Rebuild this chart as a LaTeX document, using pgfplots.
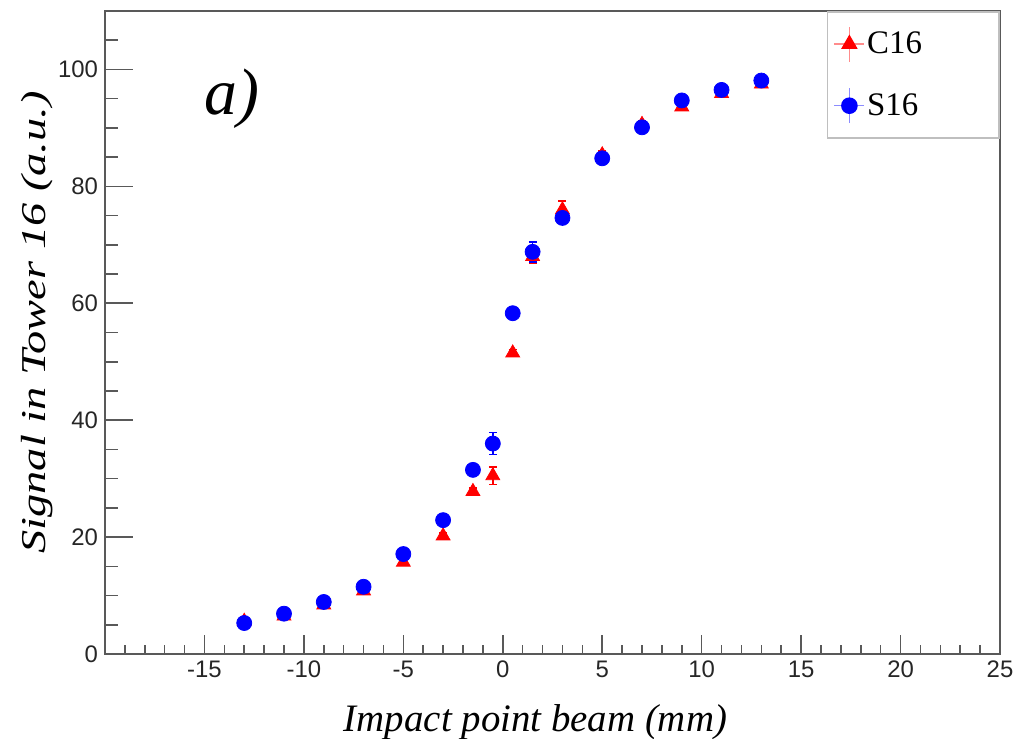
\documentclass[border=0pt]{standalone}
\usepackage{fontspec}
\setmainfont{Liberation Serif}
\newfontfamily\sansf{Liberation Sans}
\usepackage{graphicx}
\usepackage{pgfplots}
\pgfplotsset{compat=1.18}
\usepackage{pgfplotstable}

\pgfplotstableread{
x y ey
-13 5.6 0.4
-11 6.5 0.4
-9 8.4 0.4
-7 10.8 0.5
-5 15.7 0.5
-3 20.2 0.5
-1.5 27.8 0.6
-0.5 30.5 1.5
0.5 51.5 0.6
1.5 68.0 1.2
3 76.0 1.5
5 85.4 0.6
7 90.6 0.6
9 93.6 0.6
11 95.9 0.6
13 97.5 0.6
}\Ctable

\pgfplotstableread{
x y ey
-13 5.3 0.4
-11 6.9 0.4
-9 8.9 0.4
-7 11.5 0.5
-5 17.1 0.5
-3 22.9 0.5
-1.5 31.5 0.6
-0.5 36.0 1.9
0.5 58.3 0.6
1.5 68.8 1.7
3 74.6 0.8
5 84.8 0.6
7 90.1 0.6
9 94.7 0.6
11 96.5 0.6
13 98.1 0.6
}\Stable

\begin{document}
\begin{tikzpicture}
\pgfplotsset{
  tickaxis/.style={
    scale only axis, height=321.5bp,
    xmin=0, xmax=1, ymin=0, ymax=110,
    xtick=\empty, yticklabels={},
    ymajorgrids, major grid style={draw=black!65, line width=0.8bp},
    axis line style={draw=none}, ytick style={draw=none},
  }
}
% long y ticks drawn as grid lines of narrow axes
\begin{axis}[tickaxis, width=14bp, ytick={20,40,60,80,100}]
\end{axis}
\begin{axis}[tickaxis, width=6.5bp, ytick={5,10,15,25,30,35,45,50,55,65,70,75,85,90,95,105}]
\end{axis}
\begin{axis}[
  scale only axis,
  width=447.5bp, height=321.5bp,
  xmin=-20, xmax=25, ymin=0, ymax=110,
  tick pos=left,
  tick align=inside,
  tick style={draw=black!65, line width=0.8bp},
  axis line style={draw=black!65, line width=0.8bp},
  xtick={-20,-15,...,25},
  xticklabels={,-15,-10,-5,0,5,10,15,20,25},
  ytick={0,20,...,100},
  yticklabels={0,20,40,60,80,100},
  ytick style={draw=none},
  minor xtick={-19,...,24},
  major tick length=9.5bp, minor tick length=4.5bp,
  ticklabel style={font=\sansf\fontsize{12}{14}\selectfont, text=black!85},
  xlabel={\itshape Impact point beam (mm)},
  xlabel style={font=\fontsize{19.5}{22}\selectfont, at={(axis description cs:0.481,-0.1198)}, anchor=base},
  ylabel={\scalebox{1.33}[1]{\itshape Signal in Tower 16 (a.u.)}},
  ylabel style={font=\fontsize{17.5}{20}\selectfont, at={(axis description cs:-0.067,0.5155)}, anchor=base},
  legend cell align=left,
  legend style={at={(rel axis cs:1,1)}, anchor=north east, draw=black!25, line width=0.8bp, fill=white,
    font=\fontsize{16.5}{18}\selectfont, inner xsep=3bp, inner ysep=7bp, row sep=12.5bp,
    nodes={inner sep=1bp}},
]
\addplot[only marks, color=red, mark=triangle*, mark size=4bp, mark options={fill=red, draw=red},
  legend image code/.code={
    \draw[red!45, line width=0.8bp] (0bp,0bp) -- (15bp,0bp);
    \draw[red!45, line width=0.8bp] (7.5bp,-8.75bp) -- (7.5bp,8.75bp);
    \draw[red, fill=red, mark=triangle*, mark size=4bp] plot coordinates {(7.5bp,0bp)};
  },
  error bars/.cd, y dir=both, y explicit,
  error bar style={red, line width=0.8bp},
  error mark options={rotate=90, mark size=2bp, red, line width=0.8bp}]
  table[x=x, y=y, y error=ey]{\Ctable};
\addlegendentry{\makebox[62bp][l]{C16}}
\addplot[only marks, color=blue, mark=*, mark size=3.75bp, mark options={fill=blue, draw=blue},
  legend image code/.code={
    \draw[blue!45, line width=0.8bp] (0bp,0bp) -- (15bp,0bp);
    \draw[blue!45, line width=0.8bp] (7.5bp,-8.75bp) -- (7.5bp,8.75bp);
    \draw[blue, fill=blue, mark=*, mark size=3.75bp] plot coordinates {(7.5bp,0bp)};
  },
  error bars/.cd, y dir=both, y explicit,
  error bar style={blue, line width=0.8bp},
  error mark options={rotate=90, mark size=2bp, blue, line width=0.8bp}]
  table[x=x, y=y, y error=ey]{\Stable};
\addlegendentry{\makebox[62bp][l]{S16}}
\node[font=\itshape\fontsize{33}{36}\selectfont] at (axis cs:-13.6,95) {a)};
\coordinate (SW) at (rel axis cs:0,0);
\coordinate (NE) at (rel axis cs:1,1);
\end{axis}
\pgfresetboundingbox
\path[use as bounding box] ([shift={(-52.5bp,-42.5bp)}]SW) rectangle ([shift={(7.5bp,5.5bp)}]NE);
\end{tikzpicture}
\end{document}
